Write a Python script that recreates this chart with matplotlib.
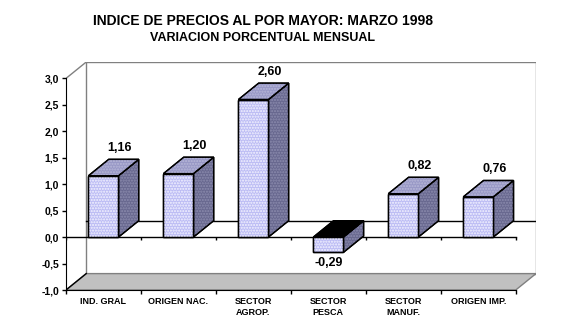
import numpy as np
import matplotlib.pyplot as plt
from matplotlib.patches import Polygon

plt.rcParams['font.family'] = ['Liberation Sans', 'DejaVu Sans']
plt.rcParams['hatch.linewidth'] = 1.0

categorias = ['IND. GRAL', 'ORIGEN NAC.', 'SECTOR\nAGROP.', 'SECTOR\nPESCA',
              'SECTOR\nMANUF.', 'ORIGEN IMP.']
valores = [1.16, 1.20, 2.60, -0.29, 0.82, 0.76]
etiquetas = ['1,16', '1,20', '2,60', '-0,29', '0,82', '0,76']
yticks = [-1.0, -0.5, 0.0, 0.5, 1.0, 1.5, 2.0, 2.5, 3.0]

# profundidad 3D en unidades de datos
dx, dy = 0.27, 0.31
w = 0.4
ymin, ymax = -1.0, 3.0
n = len(valores)

c_frente = '#bcbcf4'
c_lado = '#68688f'
c_tapa = '#9898c6'

fig = plt.figure(figsize=(5.65, 3.35), dpi=100)
ax = fig.add_axes([66 / 565, 45 / 335, 470 / 565, 228 / 335])
ax.set_xlim(-0.5, n - 0.5 + dx)
ax.set_ylim(ymin, ymax + dy)

# pared del fondo y piso
ax.add_patch(Polygon([(-0.5 + dx, ymin + dy), (n - 0.5 + dx, ymin + dy),
                      (n - 0.5 + dx, ymax + dy), (-0.5 + dx, ymax + dy)],
                     closed=True, facecolor='white', edgecolor='#808080', lw=1, zorder=1))
ax.add_patch(Polygon([(-0.5, ymin), (n - 0.5, ymin), (n - 0.5 + dx, ymin + dy),
                      (-0.5 + dx, ymin + dy)],
                     closed=True, facecolor='#c0c0c0', edgecolor='#808080', lw=1, zorder=1))
ax.plot([-0.5, -0.5 + dx], [ymax, ymax + dy], color='#808080', lw=1, zorder=1)
ax.plot([-0.5, -0.5 + dx], [ymin, ymin + dy], color='black', lw=1, zorder=2)
# plano cero
ax.plot([-0.5 + dx, n - 0.5 + dx], [dy, dy], color='black', lw=1, zorder=2)
ax.plot([-0.5, n - 0.5], [0, 0], color='black', lw=1, zorder=2)
ax.vlines(np.arange(n + 1) - 0.5, -0.06, 0, color='black', lw=1, zorder=2)

for i, v in enumerate(valores):
    arriba = max(v, 0)
    abajo = min(v, 0)
    x0, x1 = i - w / 2, i + w / 2
    frente = [(x0, abajo), (x1, abajo), (x1, arriba), (x0, arriba)]
    lado = [(x1, abajo), (x1 + dx, abajo + dy), (x1 + dx, arriba + dy), (x1, arriba)]
    tapa = [(x0, arriba), (x1, arriba), (x1 + dx, arriba + dy), (x0 + dx, arriba + dy)]
    color_tapa = c_tapa if v >= 0 else 'black'
    for pts, col, hc in [(lado, c_lado, '#8c8cae'), (tapa, color_tapa, '#b8b8d8'),
                         (frente, c_frente, '#f4f4ff')]:
        ax.add_patch(Polygon(pts, closed=True, facecolor=col, edgecolor='black',
                             lw=1, zorder=3))
        if col != 'black':
            ax.add_patch(Polygon(pts, closed=True, fill=False, hatch='......',
                                 edgecolor=hc, lw=0, zorder=3))
        ax.add_patch(Polygon(pts, closed=True, fill=False, edgecolor='black',
                             lw=1, zorder=3))
    if v >= 0:
        ax.annotate(etiquetas[i], (i + dx * 0.8, arriba + dy), xytext=(0, 4),
                    textcoords='offset points', ha='center', va='bottom',
                    fontsize=9, fontweight='bold', zorder=5)
    else:
        ax.annotate(etiquetas[i], (i, abajo), xytext=(0, -3),
                    textcoords='offset points', ha='center', va='top',
                    fontsize=9, fontweight='bold', zorder=5)

for s in ['top', 'right']:
    ax.spines[s].set_visible(False)
ax.spines['left'].set_bounds(ymin, ymax)
ax.spines['bottom'].set_bounds(-0.5, n - 0.5)
ax.spines['left'].set_zorder(4)
ax.spines['bottom'].set_zorder(4)

ax.set_yticks(yticks)
ax.set_yticklabels([f'{t:.1f}'.replace('.', ',') for t in yticks],
                   fontsize=7.5, fontweight='bold')
ax.tick_params(axis='y', length=3, width=1, pad=2)

ax.set_xticks(np.arange(n + 1) - 0.5)
ax.set_xticklabels([])
ax.tick_params(axis='x', which='major', length=3, width=1)
ax.set_xticks(np.arange(n), minor=True)
ax.set_xticklabels(categorias, minor=True, fontsize=6.5, fontweight='bold',
                   linespacing=1.25)
ax.tick_params(axis='x', which='minor', length=0, pad=5)

fig.text(263 / 565, 1 - 21 / 335, 'INDICE DE PRECIOS AL POR MAYOR: MARZO 1998',
         ha='center', va='center', fontsize=10, fontweight='bold')
fig.text(263 / 565, 1 - 38 / 335, 'VARIACION PORCENTUAL MENSUAL',
         ha='center', va='center', fontsize=9, fontweight='bold')

fig.savefig('out.png', dpi=100)
